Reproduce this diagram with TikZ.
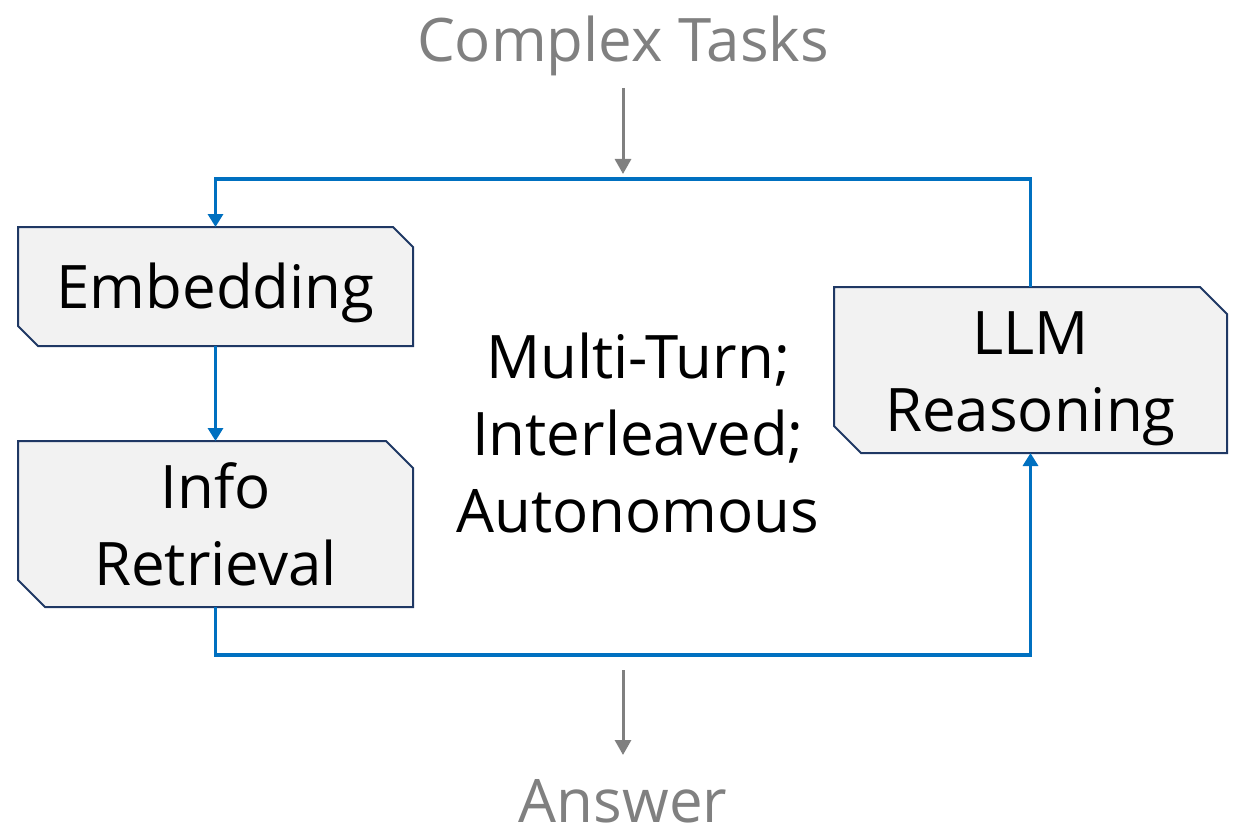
\documentclass[tikz,border=0pt]{standalone}
\usepackage{fontspec}
\setmainfont{Open Sans}
\usetikzlibrary{arrows.meta,backgrounds}
\definecolor{flowblue}{HTML}{0070C0}
\definecolor{boxfill}{HTML}{F2F2F2}
\definecolor{boxedge}{HTML}{1F3864}
\definecolor{textgray}{HTML}{808080}
% outline with the north-east and south-west corners cut off
\newcommand\cutbox[2]{%
  \begin{scope}[on background layer]
    \draw[draw=boxedge, fill=boxfill, line width=2pt, line join=miter]
      (#1.north west) -- ([xshift=-#2]#1.north east)
      -- ([yshift=-#2]#1.north east) -- (#1.south east)
      -- ([xshift=#2]#1.south west) -- ([yshift=#2]#1.south west) -- cycle;
  \end{scope}}
% lower a label inside its box without changing the box
\newcommand\lowered[2]{\raisebox{-#1}[\height][\depth]{#2}}
\begin{document}
\begin{tikzpicture}[x=1pt,y=-1pt,
  stage/.style={rectangle, inner sep=0pt, outer sep=0pt,
    align=center, font=\fontsize{60}{77}\selectfont},
  flow/.style={draw=flowblue, line width=3.2pt,
    -{Triangle[width=15pt,length=13pt]}},
  io/.style={draw=textgray, line width=3pt,
    -{Triangle[width=16pt,length=15pt]}},
  iotext/.style={text=textgray, font=\fontsize{60}{77}\selectfont},
  note/.style={align=center, font=\fontsize{60}{77}\selectfont}]
\useasboundingbox (0,0) rectangle (1241,837);

% processing stages
\node[stage, minimum width=395pt, minimum height=119pt]
  (embed) at (215.5,286.5) {\lowered{6pt}{Embedding}};
\node[stage, minimum width=395pt, minimum height=166pt]
  (retr) at (215.5,524) {Info\\Retrieval};
\node[stage, minimum width=393pt, minimum height=166pt]
  (llm) at (1030.5,370)
  {\lowered{8pt}{\begin{tabular}{@{}c@{}}LLM\\Reasoning\end{tabular}}};
\cutbox{embed}{20pt}
\cutbox{retr}{27pt}
\cutbox{llm}{27pt}

% loop description
\node[note] (loop) at (638,433) {Multi-Turn;\\Interleaved;\\Autonomous};

% input and output
\node[iotext] (task) at (623,46) {Complex Tasks};
\node[iotext] (ans) at (623,801) {Answer};
\coordinate (inStart) at (623,88);
\coordinate (inEnd) at (623,174);
\coordinate (outStart) at (623,670);
\coordinate (outEnd) at (623,755);

% feedback loop
\draw[flow] (llm.north) -- (llm.north |- 0,179) -- (embed.north |- 0,179) -- (embed.north);
\draw[flow] (embed.south) -- (retr.north);
\draw[flow] (retr.south) -- (retr.south |- 0,655) -- (llm.south |- 0,655) -- (llm.south);

\draw[io] (inStart) -- (inEnd);
\draw[io] (outStart) -- (outEnd);
\end{tikzpicture}
\end{document}
